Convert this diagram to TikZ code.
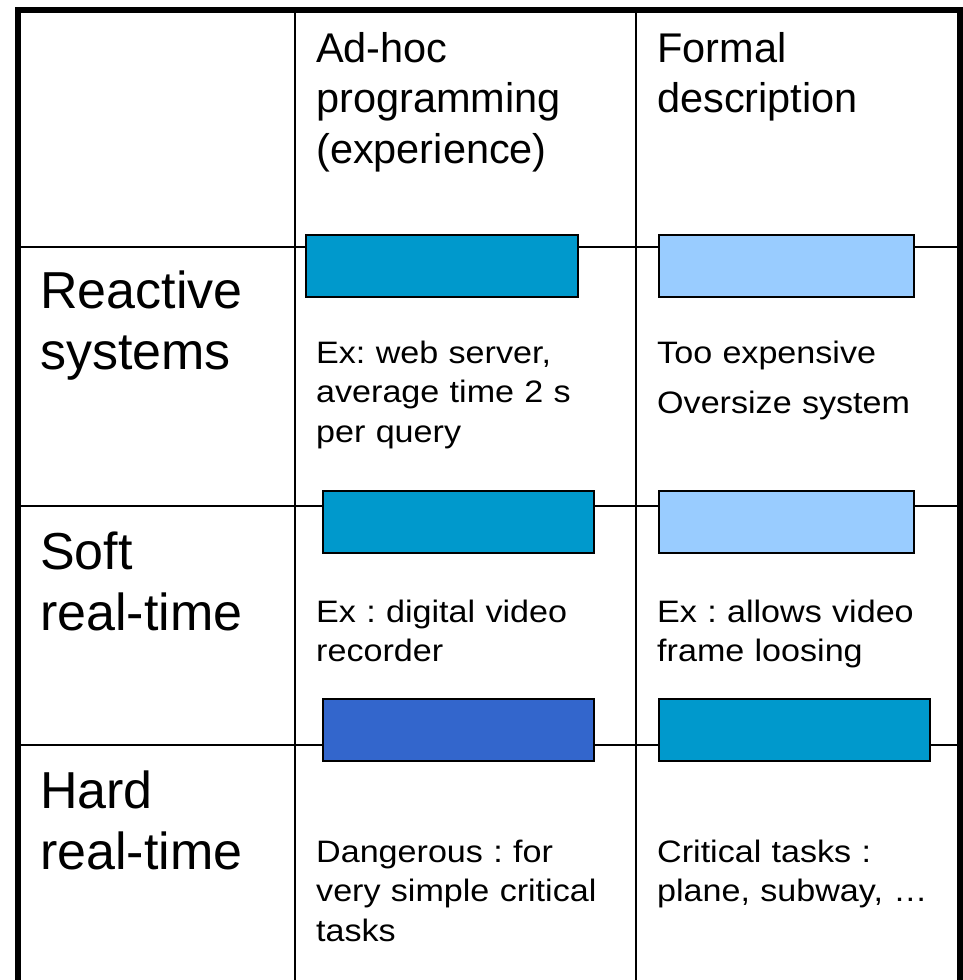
\documentclass[tikz,border=0pt]{standalone}
\usepackage{fontspec}
\setmainfont{Liberation Sans}
\newfontfamily\cellfont[FakeStretch=1.1]{Liberation Sans}
\usetikzlibrary{positioning}
\definecolor{cyan1}{HTML}{0099CC}
\definecolor{sky1}{HTML}{99CCFF}
\definecolor{royal1}{HTML}{3366CC}
\frenchspacing

\begin{document}
\begin{tikzpicture}[x=1pt, y=-1pt,
    frame/.style={draw=black, line width=6pt},
    rule/.style={draw=black, line width=2pt},
    bar/.style={draw=black, line width=2pt, anchor=north west, inner sep=0pt, outer sep=0pt, minimum height=62pt},
    header/.style={anchor=base west, inner sep=0pt, text width=320pt, align=left, font=\fontsize{41.5}{50.5}\selectfont},
    rowlabel/.style={anchor=base west, inner sep=0pt, text width=250pt, align=left, font=\fontsize{52}{61}\selectfont},
    cell/.style={anchor=base west, inner sep=0pt, text width=300pt, align=left, font=\cellfont\fontsize{31}{39.5}\selectfont}
]
    \useasboundingbox (0,0) rectangle (963,980);

    % table rules
    \foreach \y in {247,506,745}
    {
        \draw[rule] (18,\y) -- (960,\y);
    };
    \foreach \x in {294.5,636}
    {
        \draw[rule] (\x,10) -- (\x,980);
    };
    \draw[frame] (18,980) -- (18,10) -- (960,10) -- (960,980);

    % column headers
    \node[header] (adhoc) at (316,62) {Ad-hoc\\programming\\(experience)};
    \node[header, font=\fontsize{41.5}{50}\selectfont] (formal) at (657,62) {Formal\\description};

    % row labels
    \node[rowlabel] (reactive) at (40,308) {Reactive\\systems};
    \node[rowlabel] (soft) at (40,569) {Soft\\real-time};
    \node[rowlabel] (hard) at (40,808) {Hard\\real-time};

    % coloured bars
    \foreach \n/\x/\y/\w/\c in {R1a/306/235/272/cyan1, R1b/658.5/235/255/sky1,
                                R2a/323/491/271/cyan1, R2b/658.5/491/255/sky1,
                                R3a/323/699/271/royal1, R3b/658.5/699/271/cyan1}
    {
        \node[bar, fill=\c, minimum width=\w pt, name=bar\n] at (\x,\y) {};
    };

    % cell texts
    \node[cell] (ex1a) at (316,363) {Ex: web server,\\average time 2 s\\per query};
    \node[cell, font=\cellfont\fontsize{31}{50}\selectfont] (ex1b) at (657,363) {Too expensive\\Oversize system};
    \node[cell] (ex2a) at (316,622) {Ex : digital video\\recorder};
    \node[cell] (ex2b) at (657,622) {Ex : allows video\\frame loosing};
    \node[cell] (ex3a) at (316,862) {Dangerous : for\\very simple critical\\tasks};
    \node[cell] (ex3b) at (657,862) {Critical tasks :\\plane, subway, …};
\end{tikzpicture}
\end{document}
